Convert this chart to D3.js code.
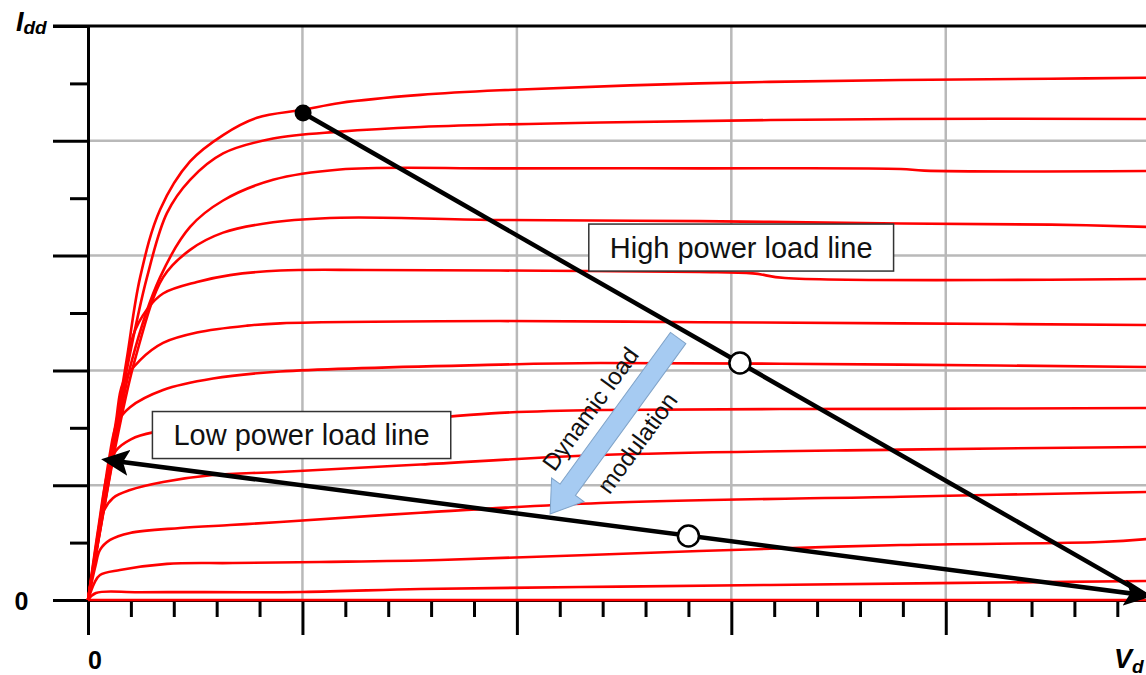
<!DOCTYPE html>
<html>
<head>
<meta charset="utf-8">
<script src="https://cdn.jsdelivr.net/npm/d3@7"></script>
<style>
  body { margin: 0; background: #fff; }
  text { font-family: "Liberation Sans", Arial, sans-serif; }
</style>
</head>
<body>
<div id="graph"></div>
<script>
// drain current vs drain voltage, one array per gate bias (V, I)
var curve01 = [[0,0],[0.06,0.70],[0.12,1.40],[0.18,2.09],[0.243,2.81],[0.336,3.40],[0.476,3.82],[0.63,4.05],[0.788,4.20],[1.003,4.27],[1.175,4.33],[1.55,4.40],[1.92,4.44],[2.85,4.50],[3.79,4.53],[4.49,4.54],[4.94,4.55]];
var curve02 = [[0,0],[0.062,0.70],[0.124,1.40],[0.19,2.09],[0.275,2.81],[0.368,3.37],[0.476,3.66],[0.63,3.89],[0.863,4.02],[1.175,4.08],[1.55,4.12],[2.39,4.16],[3.79,4.19],[4.94,4.19]];
var curve03 = [[0,0],[0.064,0.70],[0.13,1.40],[0.205,2.09],[0.336,2.81],[0.476,3.25],[0.63,3.48],[0.863,3.66],[1.175,3.75],[1.92,3.76],[2.85,3.76],[3.79,3.755],[3.9,3.74],[4.94,3.737]];
var curve04 = [[0,0],[0.066,0.70],[0.135,1.40],[0.22,2.10],[0.35,2.81],[0.476,3.05],[0.63,3.20],[0.863,3.29],[1.175,3.33],[1.92,3.31],[2.85,3.30],[3.79,3.28],[4.49,3.27],[4.94,3.25]];
var curve05 = [[0,0],[0.07,0.75],[0.14,1.50],[0.21,2.30],[0.275,2.53],[0.35,2.67],[0.508,2.77],[0.662,2.83],[0.896,2.87],[1.3,2.875],[1.92,2.87],[2.85,2.857],[3.1,2.845],[3.25,2.805],[4.94,2.796]];
var curve06 = [[0,0],[0.07,0.80],[0.13,1.55],[0.163,1.89],[0.243,2.09],[0.35,2.24],[0.508,2.33],[0.742,2.39],[0.896,2.41],[1.92,2.43],[2.85,2.42],[3.79,2.41],[4.94,2.395]];
var curve07 = [[0,0],[0.06,0.75],[0.10,1.25],[0.135,1.54],[0.196,1.68],[0.35,1.83],[0.583,1.93],[0.896,1.99],[1.92,2.05],[2.39,2.064],[3.79,2.05],[4.94,2.03]];
var curve08 = [[0,0],[0.05,0.65],[0.09,1.10],[0.13,1.30],[0.20,1.40],[0.303,1.46],[0.60,1.51],[1.0,1.53],[1.55,1.58],[1.92,1.63],[2.39,1.655],[3.79,1.665],[4.94,1.672]];
var curve09 = [[0,0],[0.04,0.45],[0.07,0.76],[0.117,0.889],[0.196,0.958],[0.35,1.028],[0.583,1.089],[0.896,1.115],[1.55,1.18],[2.39,1.263],[3.79,1.31],[4.94,1.333]];
var curve10 = [[0,0],[0.035,0.30],[0.056,0.436],[0.103,0.523],[0.196,0.584],[0.429,0.627],[0.662,0.653],[0.896,0.679],[1.55,0.76],[2.39,0.845],[3.79,0.90],[4.94,0.941]];
var curve11 = [[0,0],[0.03,0.15],[0.056,0.218],[0.149,0.261],[0.368,0.315],[0.676,0.322],[1.08,0.331],[1.64,0.348],[2.85,0.427],[3.79,0.479],[4.72,0.505],[4.94,0.531]];
var curve12 = [[0,0],[0.037,0.061],[0.243,0.068],[1.0,0.07],[1.55,0.096],[2.295,0.113],[3.18,0.131],[4.94,0.166]];
var curve13 = [[0,0],[4.94,0]];
var curves = [curve01, curve02, curve03, curve04, curve05, curve06, curve07, curve08, curve09, curve10, curve11, curve12, curve13];

// load lines, bias points, annotation anchors (V, I)
var highLoad = [[1.003, 4.242], [4.935, 0.04]];
var lowLoad = [[0.089, 1.22], [4.935, 0.04]];
var peakPoint = [1.003, 4.242];
var biasPoints = [[3.04, 2.065], [2.80, 0.557]];
var modArrow = [[2.752, 2.282], [2.155, 0.749]];
var modText = ["Dynamic load", "modulation"];
var labels = [
  { text: "High power load line", v: 3.046, i: 3.07 },
  { text: "Low power load line", v: 0.996, i: 1.437 }
];

// ticks
var xMajor = [0, 1, 2, 3, 4];
var xMinor = [0.2,0.4,0.6,0.8,1.2,1.4,1.6,1.8,2.2,2.4,2.6,2.8,3.2,3.4,3.6,3.8,4.2,4.4,4.6,4.8];
var yMajor = [0, 1, 2, 3, 4, 5];
var yMinor = [0.5, 1.5, 2.5, 3.5, 4.5];
var xGrid = [1, 2, 3, 4];
var yGrid = [1, 2, 3, 4];

var width = 1146, height = 675;

var svg = d3.select('#graph').append('svg')
    .attr('width', width)
    .attr('height', height)
    .style('display', 'block')
    .style('background', '#fff');

var x = d3.scaleLinear().domain([0, 5]).range([88, 1160.2]);
var y = d3.scaleLinear().domain([0, 5]).range([600, 26]);

var defs = svg.append("defs");
defs.append("marker")
    .attr("id", "head")
    .attr("markerUnits", "userSpaceOnUse")
    .attr("viewBox", "0 0 28 26")
    .attr("markerWidth", 28)
    .attr("markerHeight", 26)
    .attr("refX", 22)
    .attr("refY", 13)
    .attr("orient", "auto-start-reverse")
  .append("path")
    .attr("d", "M0,0 L28,13 L0,26 L6,13 Z")
    .attr("fill", "#000");

// grid
svg.append("g").selectAll("line").data(xGrid).enter().append("line")
    .attr("x1", d => x(d)).attr("x2", d => x(d))
    .attr("y1", y(5)).attr("y2", y(0))
    .attr("stroke", "#b9b9b9").attr("stroke-width", 2.5);
svg.append("g").selectAll("line").data(yGrid).enter().append("line")
    .attr("x1", x(0)).attr("x2", width)
    .attr("y1", d => y(d)).attr("y2", d => y(d))
    .attr("stroke", "#b9b9b9").attr("stroke-width", 2.5);

// axes
function styleAxis(g) {
  g.selectAll("line").attr("stroke", "#000").attr("stroke-width", 3);
  g.select(".domain").attr("stroke", "#000").attr("stroke-width", 3);
  g.selectAll("text").remove();
}
svg.append("g")
    .attr("transform", "translate(" + x(0) + ",0)")
    .call(d3.axisLeft(y).tickValues(yMajor).tickSize(35).tickSizeOuter(0))
    .call(styleAxis);
svg.append("g")
    .attr("transform", "translate(" + x(0) + ",0)")
    .call(d3.axisLeft(y).tickValues(yMinor).tickSize(18).tickSizeOuter(0))
    .call(styleAxis);
svg.append("g")
    .attr("transform", "translate(0," + y(0) + ")")
    .call(d3.axisBottom(x).tickValues(xMajor).tickSize(35).tickSizeOuter(0))
    .call(styleAxis);
svg.append("g")
    .attr("transform", "translate(0," + y(0) + ")")
    .call(d3.axisBottom(x).tickValues(xMinor).tickSize(17).tickSizeOuter(0))
    .call(styleAxis);
// top frame
svg.append("line")
    .attr("x1", x(0) - 35).attr("x2", width)
    .attr("y1", y(5)).attr("y2", y(5))
    .attr("stroke", "#000").attr("stroke-width", 3);

// red characteristic curves
var line = d3.line()
    .x(d => x(d[0]))
    .y(d => y(d[1]));
var smooth = d3.line()
    .x(d => x(d[0]))
    .y(d => y(d[1]))
    .curve(d3.curveCatmullRom.alpha(0.5));
svg.append("g").selectAll("path").data(curves).enter().append("path")
    .attr("d", smooth)
    .attr("fill", "none")
    .attr("stroke", "#ff0000")
    .attr("stroke-width", 2.6)
    .attr("stroke-linejoin", "round");

// axis labels
var idd = svg.append("text").attr("x", 16).attr("y", 31)
    .attr("font-weight", "bold").attr("font-style", "italic").attr("font-size", 27);
idd.append("tspan").text("I");
idd.append("tspan").attr("font-size", 19).attr("dy", 3).text("dd");
var vd = svg.append("text").attr("x", 1114).attr("y", 668)
    .attr("font-weight", "bold").attr("font-style", "italic").attr("font-size", 27);
vd.append("tspan").text("V");
vd.append("tspan").attr("font-size", 19).attr("dy", 5).text("d");
svg.append("text").attr("x", 21.5).attr("y", 610).attr("text-anchor", "middle")
    .attr("font-weight", "bold").attr("font-size", 25).text("0");
svg.append("text").attr("x", x(0) + 7).attr("y", 669).attr("text-anchor", "middle")
    .attr("font-weight", "bold").attr("font-size", 25).text("0");

// label boxes
labels.forEach(function(l) {
  var g = svg.append("g");
  var t = g.append("text")
      .attr("x", x(l.v)).attr("y", y(l.i) + 10)
      .attr("text-anchor", "middle")
      .style("font-size", "29px")
      .style("fill", "#111")
      .text(l.text);
  var bb = t.node().getBBox();
  g.insert("rect", "text")
      .attr("x", bb.x - 21).attr("width", bb.width + 42)
      .attr("y", y(l.i) - 23.5).attr("height", 47)
      .attr("fill", "#fff").attr("stroke", "#333").attr("stroke-width", 1.5);
});

// load lines
svg.append("path")
    .attr("d", line(highLoad))
    .attr("fill", "none").attr("stroke", "#000").attr("stroke-width", 4.5);
svg.append("path")
    .attr("d", line(lowLoad))
    .attr("fill", "none").attr("stroke", "#000").attr("stroke-width", 4.5)
    .attr("marker-start", "url(#head)")
    .attr("marker-end", "url(#head)");

svg.append("circle")
    .attr("cx", x(peakPoint[0])).attr("cy", y(peakPoint[1]))
    .attr("r", 8.5).attr("fill", "#000");
svg.append("g").selectAll("circle").data(biasPoints).enter().append("circle")
    .attr("cx", d => x(d[0])).attr("cy", d => y(d[1]))
    .attr("r", 10.5).attr("fill", "#fff")
    .attr("stroke", "#000").attr("stroke-width", 2.5);

// dynamic load modulation arrow
var ax0 = x(modArrow[0][0]), ay0 = y(modArrow[0][1]);
var ax1 = x(modArrow[1][0]), ay1 = y(modArrow[1][1]);
var len = Math.hypot(ax1 - ax0, ay1 - ay0);
var ang = Math.atan2(ay1 - ay0, ax1 - ax0) * 180 / Math.PI;
var hl = 30, sw = 9.5, hw = 20;
svg.append("polygon")
    .attr("points", [[0,-sw],[len-hl,-sw],[len-hl,-hw],[len,0],[len-hl,hw],[len-hl,sw],[0,sw]].join(" "))
    .attr("transform", "translate(" + ax0 + "," + ay0 + ") rotate(" + ang + ")")
    .attr("fill", "#a6cbf2")
    .attr("stroke", "#7fa3c9")
    .attr("stroke-width", 1);

var mg = svg.append("g")
    .attr("transform", "translate(" + ((ax0 + ax1) / 2) + "," + ((ay0 + ay1) / 2) + ") rotate(" + (ang + 180) + ")");
mg.selectAll("text").data(modText).enter().append("text")
    .attr("x", 0)
    .attr("y", (d, k) => k === 0 ? -21 : 37)
    .attr("text-anchor", "middle")
    .style("font-size", "24px")
    .style("fill", "#111")
    .text(d => d);
</script>
</body>
</html>
